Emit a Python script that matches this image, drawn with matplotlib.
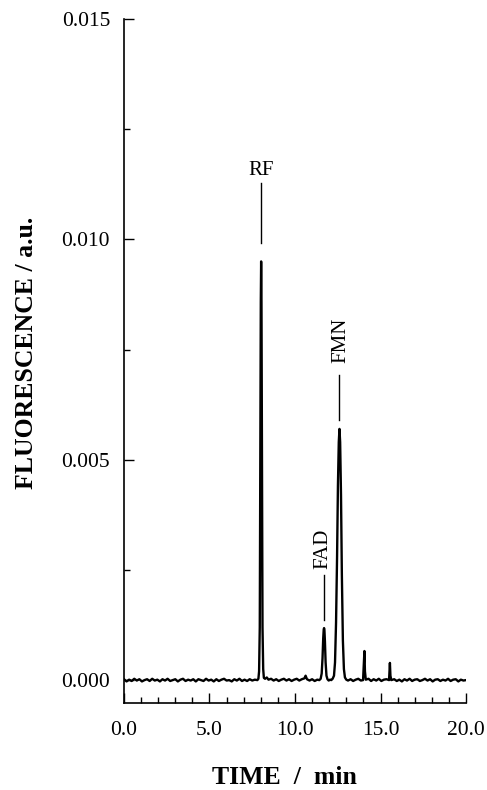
import numpy as np
import matplotlib
matplotlib.use("Agg")
import matplotlib.pyplot as plt
from matplotlib.ticker import MultipleLocator, FormatStrFormatter

# ---- Chromatogram trace (signal in units of 1e-4 a.u.) ----
base_time = [0.00, 0.15, 0.30, 0.45, 0.60, 0.75, 0.90, 1.05, 1.20, 1.35,
             1.50, 1.65, 1.80, 1.95, 2.10, 2.25, 2.40, 2.55, 2.70, 2.85,
             3.00, 3.15, 3.30, 3.45, 3.60, 3.75, 3.90, 4.05, 4.20, 4.35,
             4.50, 4.65, 4.80, 4.95, 5.10, 5.25, 5.40, 5.55, 5.70, 5.85,
             6.00, 6.15, 6.30, 6.45, 6.60, 6.75, 6.90, 7.05, 7.20, 7.35,
             7.50, 7.65, 7.80]
base_signal = [0.2, -0.3, 0.1, -0.2, 0.3, -0.1, 0.2, -0.3, 0.0, 0.2,
               -0.2, 0.3, -0.1, 0.1, -0.3, 0.2, -0.1, 0.3, -0.2, 0.0,
               0.2, -0.3, 0.1, 0.3, -0.2, 0.1, -0.1, 0.2, -0.3, 0.2,
               0.0, -0.2, 0.3, -0.1, 0.1, -0.3, 0.2, -0.2, 0.1, 0.3,
               -0.1, 0.0, -0.3, 0.2, -0.1, 0.3, -0.2, 0.1, -0.2, 0.2,
               -0.1, 0.1, 0.0]

rf_time = [7.86, 7.90, 7.94, 7.97, 8.00, 8.02, 8.04, 8.07, 8.10, 8.14, 8.18]
rf_signal = [0.3, 2.0, 12.0, 48.0, 86.0, 95.0, 86.0, 45.0, 12.0, 2.5, 0.5]

mid_time = [8.25, 8.35, 8.45, 8.60, 8.75, 8.90, 9.05, 9.20, 9.35, 9.50,
            9.65, 9.80, 9.95, 10.10, 10.25, 10.40, 10.55, 10.62, 10.70, 10.85,
            11.00, 11.15, 11.30, 11.42]
mid_signal = [0.3, 0.6, 0.1, 0.3, -0.1, 0.2, -0.2, 0.1, 0.3, -0.1,
              0.2, -0.2, 0.1, 0.3, -0.1, 0.2, 0.4, 1.0, 0.2, -0.1,
              0.2, -0.2, 0.1, 0.0]

fad_time = [11.50, 11.56, 11.61, 11.65, 11.68, 11.70, 11.72, 11.75, 11.79, 11.84,
            11.90, 11.97, 12.05, 12.12, 12.20]
fad_signal = [0.3, 1.5, 5.0, 9.5, 11.5, 11.8, 11.4, 8.8, 4.0, 1.0,
              0.2, -0.1, 0.1, 0.0, 0.3]

fmn_time = [12.28, 12.34, 12.40, 12.46, 12.51, 12.56, 12.60, 12.64, 12.69, 12.74,
            12.80, 12.86, 12.92, 13.00]
fmn_signal = [1.0, 4.0, 13.0, 28.0, 44.0, 54.0, 57.0, 54.0, 42.0, 24.0,
              9.0, 2.5, 0.6, 0.1]

tail_time = [13.10, 13.25, 13.40, 13.55, 13.70, 13.85, 13.98, 14.03, 14.06, 14.09,
             14.14, 14.30, 14.45, 14.60, 14.75, 14.90, 15.05, 15.20, 15.35, 15.50,
             15.55, 15.58, 15.63, 15.80, 15.95]
tail_signal = [-0.1, 0.2, -0.2, 0.1, 0.3, -0.1, 0.0, 4.0, 6.6, 2.0,
               0.1, 0.3, -0.2, 0.2, -0.1, 0.3, -0.2, 0.1, 0.2, 0.0,
               3.9, 1.0, 0.0, 0.2, -0.2]

end_time = [16.10, 16.25, 16.40, 16.55, 16.70, 16.85, 17.00, 17.15, 17.30, 17.45,
            17.60, 17.75, 17.90, 18.05, 18.20, 18.35, 18.50, 18.65, 18.80, 18.95,
            19.10, 19.25, 19.40, 19.55, 19.70, 19.85, 20.00]
end_signal = [0.1, -0.3, 0.2, -0.1, 0.3, -0.2, 0.1, 0.2, -0.2, 0.0,
              0.3, -0.1, 0.2, -0.3, 0.1, 0.2, -0.2, 0.1, -0.1, 0.3,
              -0.2, 0.1, 0.2, -0.3, 0.1, -0.1, 0.0]

# peak labels: text, time, label y, marker line start / end (a.u.)
peak_names = ["RF", "FAD", "FMN"]
peak_label_time = [8.02, 11.62, 12.70]
peak_line_time = [8.02, 11.70, 12.60]
peak_label_y = [0.01157, 0.00297, 0.00771]
peak_line_top = [0.01127, 0.00238, 0.00692]
peak_line_bottom = [0.00991, 0.00136, 0.00590]
peak_rotation = [0, 90, 90]

# ---- build the trace ----
time_min = np.concatenate([base_time, rf_time, mid_time, fad_time,
                           fmn_time, tail_time, end_time])
signal = np.concatenate([base_signal, rf_signal, mid_signal, fad_signal,
                         fmn_signal, tail_signal, end_signal]) * 1e-4

plt.rcParams['font.family'] = ['Liberation Serif', 'DejaVu Serif']

fig = plt.figure(figsize=(4.87, 7.90), dpi=100)
ax = fig.add_axes([0.2546, 0.1101, 0.7023, 0.8658])

ax.plot(time_min, signal, color='black', lw=1.7)

# peak labels with marker lines
for name, tl, tline, ly, top, bot, rot in zip(peak_names, peak_label_time, peak_line_time,
                                               peak_label_y, peak_line_top, peak_line_bottom,
                                               peak_rotation):
    ax.plot([tline, tline], [bot, top], color='black', lw=1.0)
    ax.text(tl, ly, name, rotation=rot, ha='center', va='center', fontsize=15)

# --- axes formatting ---
ax.set_xlim(0, 20)
ax.set_ylim(-0.00052, 0.015)
ax.spines['top'].set_visible(False)
ax.spines['right'].set_visible(False)
ax.spines['left'].set_linewidth(1.2)
ax.spines['bottom'].set_linewidth(1.2)

ax.xaxis.set_major_locator(MultipleLocator(5))
ax.xaxis.set_minor_locator(MultipleLocator(1))
ax.yaxis.set_major_locator(MultipleLocator(0.005))
ax.yaxis.set_minor_locator(MultipleLocator(0.0025))
ax.xaxis.set_major_formatter(FormatStrFormatter('%.1f'))
ax.yaxis.set_major_formatter(FormatStrFormatter('%.3f'))

ax.tick_params(which='both', direction='in', width=1.0, labelsize=15.5)
ax.tick_params(which='major', length=7)
ax.tick_params(which='minor', length=4.5)
ax.tick_params(axis='x', which='major', pad=13)
ax.tick_params(axis='y', which='major', pad=10)

fig.text(284 / 487, 1 - 784 / 790, "TIME  /  min", ha='center', va='baseline',
         fontsize=18.5, fontweight='bold')
fig.text(26.5 / 487, 1 - 353 / 790, "FLUORESCENCE / a.u.", ha='center', va='center',
         rotation=90, fontsize=18.5, fontweight='bold')

fig.savefig("out.png", dpi=100)
plt.close(fig)
